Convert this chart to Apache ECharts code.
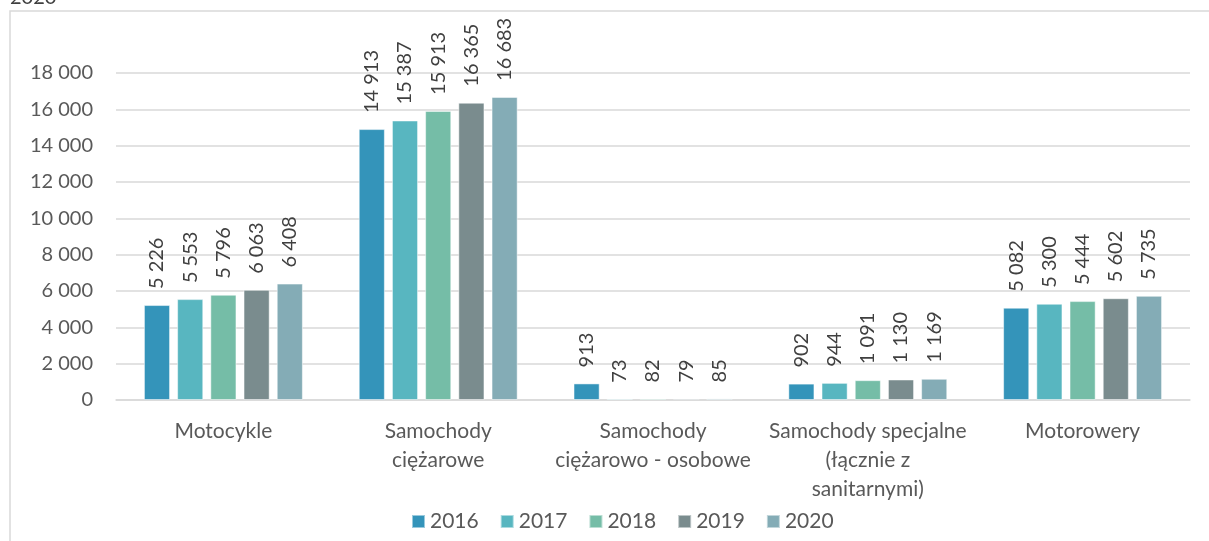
<!DOCTYPE html>
<html>
<head>
<meta charset="utf-8">
<script src="https://cdn.jsdelivr.net/npm/echarts@6/dist/echarts.min.js"></script>
<style>
  html, body { margin: 0; padding: 0; background: #fff; }
  #chart { width: 1209px; height: 541px; }
</style>
</head>
<body>
<div id="chart"></div>
<script>
const categories = [
  "Motocykle",
  "Samochody\nciężarowe",
  "Samochody\nciężarowo - osobowe",
  "Samochody specjalne\n(łącznie z\nsanitarnymi)",
  "Motorowery"
];
const years = ["2016", "2017", "2018", "2019", "2020"];
const v2016 = [5226, 14913, 913, 902, 5082];
const v2017 = [5553, 15387, 73, 944, 5300];
const v2018 = [5796, 15913, 82, 1091, 5444];
const v2019 = [6063, 16365, 79, 1130, 5602];
const v2020 = [6408, 16683, 85, 1169, 5735];
const yTicks = [0, 2000, 4000, 6000, 8000, 10000, 12000, 14000, 16000, 18000];

const colors = ["#3494BA", "#58B6C0", "#75BDA7", "#7A8C8E", "#84ACB6"];
const font = "Lato, 'Noto Sans', sans-serif";

function fmt(n) {
  return String(n).replace(/\B(?=(\d{3})+(?!\d))/g, " ");
}

const seriesData = [v2016, v2017, v2018, v2019, v2020];

const chart = echarts.init(document.getElementById("chart"));
chart.setOption({
  color: colors,
  animation: false,
  textStyle: { fontFamily: font },
  graphic: [
    {
      type: "rect",
      shape: { x: 10, y: 11, width: 1400, height: 700 },
      style: { fill: "none", stroke: "#d9d9d9", lineWidth: 1.5 }
    },
    {
      type: "text",
      left: 10,
      top: -12,
      style: { text: "2020", fontSize: 20, fill: "#404040", fontFamily: font }
    }
  ],
  grid: {
    left: 116, right: 19, top: 73, bottom: 141,
    outerBoundsMode: "none"
  },
  legend: {
    data: years,
    left: 406,
    top: 506,
    itemWidth: 13,
    itemHeight: 13,
    itemGap: 21,
    icon: "rect",
    textStyle: { fontSize: 21, color: "#595959", fontFamily: font }
  },
  xAxis: {
    type: "category",
    data: categories,
    axisLine: { lineStyle: { color: "#d9d9d9", width: 1.5 } },
    axisTick: { show: false },
    axisLabel: {
      interval: 0,
      fontSize: 21,
      color: "#595959",
      lineHeight: 29,
      margin: 17,
      fontFamily: font
    }
  },
  yAxis: {
    type: "value",
    min: 0,
    max: 18000,
    interval: 2000,
    axisLine: { show: false },
    axisTick: { show: false },
    splitLine: { lineStyle: { color: "#d9d9d9", width: 1.5 } },
    axisLabel: {
      fontSize: 20,
      color: "#595959",
      margin: 23,
      fontFamily: font,
      formatter: v => yTicks.includes(v) ? fmt(v) : ""
    }
  },
  series: years.map((y, i) => ({
    name: y,
    type: "bar",
    data: seriesData[i],
    barGap: "27%",
    barCategoryGap: "26%",
    itemStyle: { color: colors[i], borderColor: "rgba(255,255,255,0.5)", borderWidth: 1 },
    label: {
      show: true,
      position: "top",
      rotate: 90,
      align: "left",
      verticalAlign: "middle",
      distance: 16,
      fontSize: 20,
      color: "#404040",
      fontFamily: font,
      formatter: p => fmt(p.value)
    }
  }))
});
</script>
</body>
</html>
